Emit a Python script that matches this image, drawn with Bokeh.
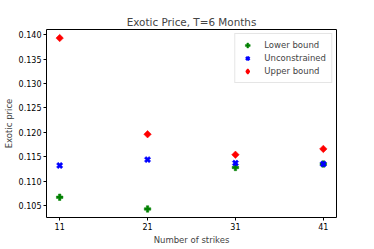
import numpy as np
from bokeh.plotting import figure
from bokeh.models import FixedTicker, Legend, LegendItem, PrintfTickFormatter, Range1d
from bokeh.embed import file_html
from bokeh.resources import INLINE

strikes = [11, 21, 31, 41]
lower_bound = [0.1067, 0.1043, 0.1128, 0.1135]
unconstrained = [0.1132, 0.1144, 0.1137, 0.1135]
upper_bound = [0.1393, 0.1196, 0.1154, 0.1166]
y_ticks = [0.105, 0.110, 0.115, 0.120, 0.125, 0.130, 0.135, 0.140]

FONT = "DejaVu Sans"

p = figure(frame_width=290, frame_height=188, output_backend="svg", toolbar_location=None,
           x_range=Range1d(9.5, 42.5), y_range=Range1d(0.10255, 0.14105),
           min_border_left=39, min_border_right=29, min_border_top=29, min_border_bottom=24)

p.title.text = "Exotic Price, T=6 Months"
p.title.align = "center"
p.title.text_font = FONT
p.title.text_font_size = "10.4px"
p.title.text_font_style = "normal"
p.title.standoff = 3

p.xgrid.visible = False
p.ygrid.visible = False
p.outline_line_color = "black"
p.outline_line_width = 1
p.background_fill_color = "white"
p.border_fill_color = "white"

for ax in (p.xaxis[0], p.yaxis[0]):
    ax.major_tick_in = 0
    ax.major_tick_out = 3
    ax.minor_tick_in = 0
    ax.minor_tick_out = 0
    ax.axis_line_color = None
    ax.major_label_text_font = FONT
    ax.major_label_text_font_size = "8px"
    ax.major_label_text_color = "black"
    ax.axis_label_text_font = FONT
    ax.axis_label_text_font_size = "8.5px"
    ax.axis_label_text_font_style = "normal"
    ax.major_label_standoff = 2
    ax.axis_label_standoff = 2

p.xaxis.ticker = FixedTicker(ticks=strikes)
p.yaxis.ticker = FixedTicker(ticks=y_ticks)
p.yaxis.formatter = PrintfTickFormatter(format="%.3f")
p.xaxis.axis_label = "Number of strikes"
p.yaxis.axis_label = "Exotic price"

p.scatter(strikes, lower_bound, marker="plus", size=6.5, fill_color="green", line_color="green", line_width=0.5)
p.scatter(strikes, unconstrained, marker="plus", size=6.5, angle=np.pi / 4, fill_color="blue", line_color="blue", line_width=0.5)
p.scatter(strikes, upper_bound, marker="square", size=5.3, angle=np.pi / 4, fill_color="red", line_color="red", line_width=0.5)

# legend-only glyphs (not drawn in the plot) so the legend shows the same shapes
nan = [np.nan]
l_low = p.scatter(nan, nan, marker="plus", size=7, fill_color="green", line_color="green", line_width=0.5)
l_unc = p.scatter(nan, nan, marker="x", size=5.5, line_color="blue", line_width=2.6)
l_up = p.scatter(nan, nan, marker="diamond", size=9, fill_color="red", line_color="red", line_width=1.5)

legend = Legend(items=[LegendItem(label="Lower bound", renderers=[l_low]),
                       LegendItem(label="Unconstrained", renderers=[l_unc]),
                       LegendItem(label="Upper bound", renderers=[l_up])],
                location="top_right")
legend.label_text_font = FONT
legend.label_text_font_size = "8.5px"
legend.label_height = 12
legend.glyph_height = 12
legend.glyph_width = 14
legend.spacing = 1
legend.padding = 5
legend.margin = 4
legend.label_standoff = 10
legend.border_line_color = "#cccccc"
legend.border_line_width = 1
legend.background_fill_alpha = 0.8
p.add_layout(legend)

open("out.html", "w").write(file_html(p, INLINE))
